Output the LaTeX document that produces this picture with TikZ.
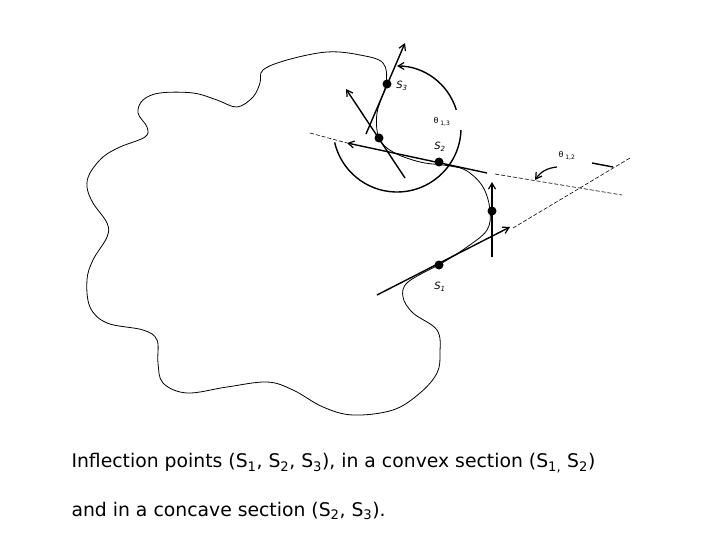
\documentclass[tikz,border=0pt]{standalone}
\usepackage{fontspec}
\setmainfont{DejaVu Sans}
\usetikzlibrary{arrows.meta}
\begin{document}
\begin{tikzpicture}[x=1pt,y=-1pt,
  thick line/.style={line width=1.4pt},
  thin curve/.style={line width=0.8pt},
  dash line/.style={line width=0.6pt,dash pattern=on 4pt off 2pt},
  arr/.style={-{Straight Barb[length=6pt,width=7pt,line width=1.2pt]}},
  dot/.style={circle,fill=black,inner sep=0pt,minimum size=9pt},
  slab/.style={font=\fontsize{10}{12}\selectfont\itshape},
  tlab/.style={font=\fontsize{8}{10}\selectfont},
  captext/.style={font=\fontsize{18.8}{22}\selectfont,anchor=west}]
\useasboundingbox (0,0) rectangle (720,540);
% blob outline
\draw[thin curve] plot[smooth,tension=0.6] coordinates {
(439,265)(408,282)(403,297)(413,313)(437,330)(440,353)(437,373)(420,393)(393,410)(353,415)(323,407)(293,390)(267,382)(227,387)(187,393)(163,383)(158,363)(157,340)(143,330)(107,323)(90,307)(87,280)(93,260)(107,237)(107,223)(93,203)(87,187)(90,173)(103,157)(120,147)(145,137)(147,127)(138,113)(143,100)(160,93)(193,93)(217,100)(237,107)(253,97)(260,83)(263,70)(287,60)(327,52)(360,55)(383,63)(386,84)(377,113)(379,138)(393,152)(420,162)(450,166)(467,171)(483,187)(490,210)(487,230)(467,247)(439,265)};
% nodes (dots)
\node[dot] (s3) at (387,84) {};
\node[dot] (p2) at (379,138) {};
\node[dot] (s2) at (439,162) {};
\node[dot] (p4) at (492,211) {};
\node[dot] (s1) at (439,265) {};
% labels
\node[slab] (l3) at (402,86) {S\textsubscript{3}};
\node[slab] (l2) at (440,147) {S\textsubscript{2}};
\node[slab] (l1) at (440,287) {S\textsubscript{1}};
\node[tlab] (t13) at (442,122) {θ\textsubscript{ 1,3}};
\node[tlab] (t12) at (567,156) {θ\textsubscript{ 1,2}};
% coordinates
\coordinate (a3s) at (366,134); \coordinate (a3e) at (405,43);
\coordinate (n2s) at (405,178); \coordinate (n2e) at (346,89);
\coordinate (d1s) at (310,133); \coordinate (t2l) at (347,143);
\coordinate (t2r) at (487,173); \coordinate (d2s) at (495,174); \coordinate (d2e) at (622,195);
\coordinate (d3s) at (513,228); \coordinate (d3e) at (630,158);
\coordinate (v1) at (492,257); \coordinate (v2) at (492,182);
\coordinate (s1s) at (377,295); \coordinate (s1e) at (510,227);
\coordinate (k1) at (592,163); \coordinate (k2) at (613,167);
\coordinate (ang1) at (557,167); \coordinate (ang2) at (535,180);
% tangent/normal lines
\draw[thick line,arr] (a3s) -- (a3e);
\draw[thick line,arr] (n2s) -- (n2e);
\draw[dash line] (d1s) -- (t2l);
\draw[thick line,arr] (t2r) -- (t2l);
\draw[dash line] (d2s) -- (d2e);
\draw[dash line] (d3s) -- (d3e);
\draw[thick line,arr] (v1) -- (v2);
\draw[thick line,arr] (s1s) -- (s1e);
\draw[thick line] (k1) -- (k2);
\draw[line width=1.2pt,arr] (ang1) to[bend right=25] (ang2);
% angle arcs
\draw[thick line,arr] (397,128) ++(-17:62) arc[start angle=-17,end angle=-90,radius=62];
\draw[thick line] (397,128) ++(2:64) arc[start angle=2,end angle=167,radius=64];
% caption
\node[captext] (c1) at (68,463) {Inflection points (S\textsubscript{1}, S\textsubscript{2}, S\textsubscript{3}), in a convex section (S\textsubscript{1,} S\textsubscript{2})};
\node[captext] (c2) at (68,511) {and in a concave section (S\textsubscript{2}, S\textsubscript{3}).};
\end{tikzpicture}
\end{document}
